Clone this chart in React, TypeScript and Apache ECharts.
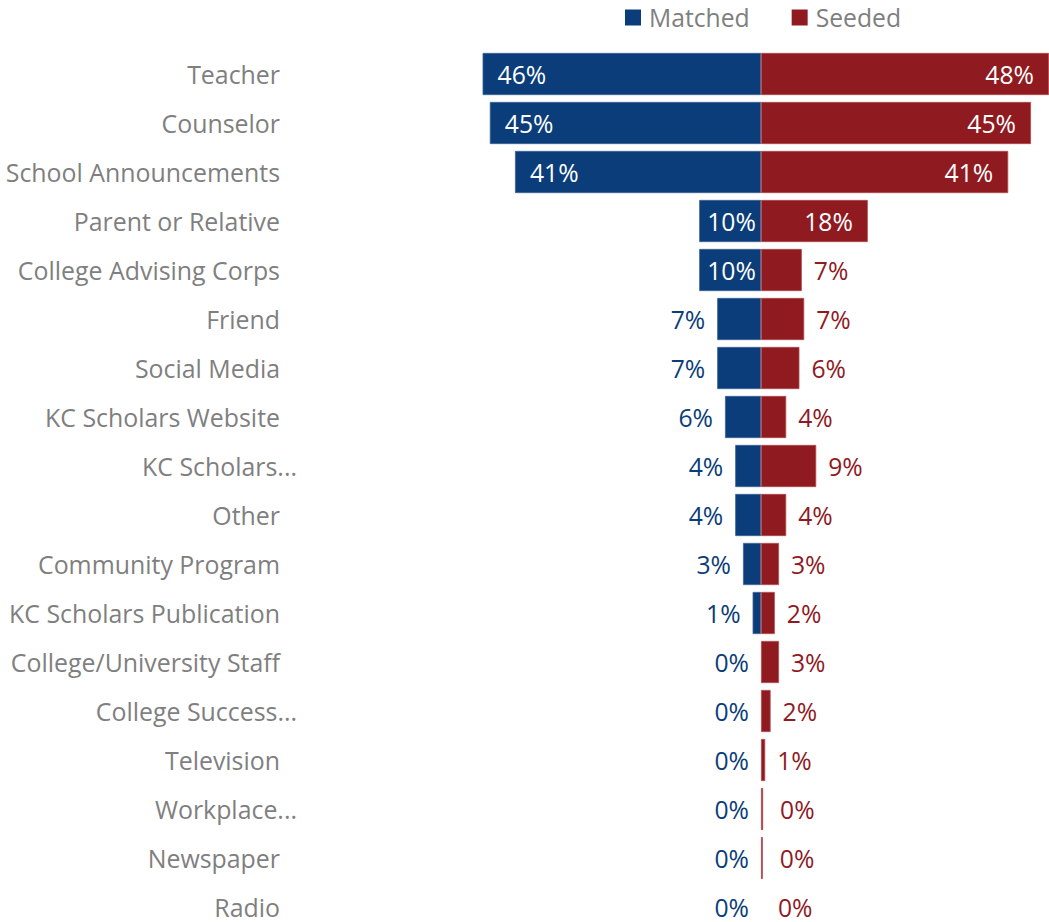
import React, { useEffect, useRef } from "react";
import * as echarts from "echarts";

const categories = [
  "Teacher",
  "Counselor",
  "School Announcements",
  "Parent or Relative",
  "College Advising Corps",
  "Friend",
  "Social Media",
  "KC Scholars Website",
  "KC Scholars...",
  "Other",
  "Community Program",
  "KC Scholars Publication",
  "College/University Staff",
  "College Success...",
  "Television",
  "Workplace...",
  "Newspaper",
  "Radio",
];

const matched = [46.4, 45.2, 41.0, 10.3, 10.3, 7.3, 7.3, 6.0, 4.3, 4.3, 3.0, 1.4, 0, 0, 0, 0, 0, 0];
const seeded = [48.0, 45.0, 41.2, 17.8, 6.8, 7.2, 6.4, 4.2, 9.2, 4.2, 3.0, 2.3, 3.0, 1.6, 0.7, 0.35, 0.3, 0];

const BLUE = "#0a3d79";
const RED = "#8f1a1f";
const GRAY = "#7f7f7f";
const FONT = "Open Sans";
const FS = 24.9;

export default function App() {
  const ref = useRef<HTMLDivElement>(null);
  useEffect(() => {
    if (!ref.current) return;
    const chart = echarts.init(ref.current, null, { renderer: "svg" });
    const fmt = (p: any) => Math.round(Math.abs(p.value)) + "%";
    const mkItem = (v: number, side: "left" | "right", color: string, border: string) => {
      const inside = Math.abs(v) >= 10;
      let distance = 12;
      if (inside) distance = v < 15 ? 8 : 15;
      else if (side === "right" && v < 0.5) distance = 17;
      return {
        value: side === "left" ? -v : v,
        itemStyle: { borderColor: border, borderWidth: v > 0 ? 0.8 : 0 },
        label: {
          show: true,
          position: inside ? (side === "left" ? "insideLeft" : "insideRight") : side,
          distance,
          color: inside ? "#ffffff" : color,
          fontSize: 24.7,
          lineHeight: 26,
          fontFamily: FONT,
          formatter: fmt,
        },
      };
    };
    chart.setOption({
      animation: false,
      textStyle: { fontFamily: FONT },
      legend: {
        left: 625,
        top: 5,
        padding: 0,
        icon: "rect",
        itemWidth: 16,
        itemHeight: 16,
        itemGap: 42,
        textStyle: { color: GRAY, fontSize: 24.7, fontFamily: FONT, padding: [0, 0, 0, 3] },
        data: ["Matched", "Seeded"],
      },
      grid: { left: 290, right: 0, top: 49.5, height: 882, containLabel: false },
      xAxis: {
        type: "value",
        min: -78.5,
        max: 48,
        show: false,
        splitLine: { show: false },
      },
      yAxis: {
        type: "category",
        inverse: true,
        data: categories,
        axisLine: { show: false },
        axisTick: { show: false },
        axisLabel: {
          margin: -7,
          color: GRAY,
          fontSize: FS,
          lineHeight: 26,
          fontFamily: FONT,
          formatter: (name: string) => (name.endsWith("...") ? name : name + "{s| }"),
          rich: { s: { width: 17, fontSize: FS, lineHeight: 26 } },
        },
      },
      series: [
        {
          name: "Matched",
          type: "bar",
          stack: "t",
          barCategoryGap: "14%",
          itemStyle: { color: BLUE },
          data: matched.map((v) => mkItem(v, "left", BLUE, "#3c6496")),
        },
        {
          name: "Seeded",
          type: "bar",
          stack: "t",
          barCategoryGap: "14%",
          itemStyle: { color: RED },
          data: seeded.map((v) => mkItem(v, "right", RED, "#b04a4e")),
        },
      ],
    });
    return () => chart.dispose();
  }, []);
  return (
    <div style={{ position: "absolute", left: 0, top: 0, width: 1049, height: 922, overflow: "hidden" }}>
      <div ref={ref} style={{ width: 1049, height: 945 }} />
    </div>
  );
}
